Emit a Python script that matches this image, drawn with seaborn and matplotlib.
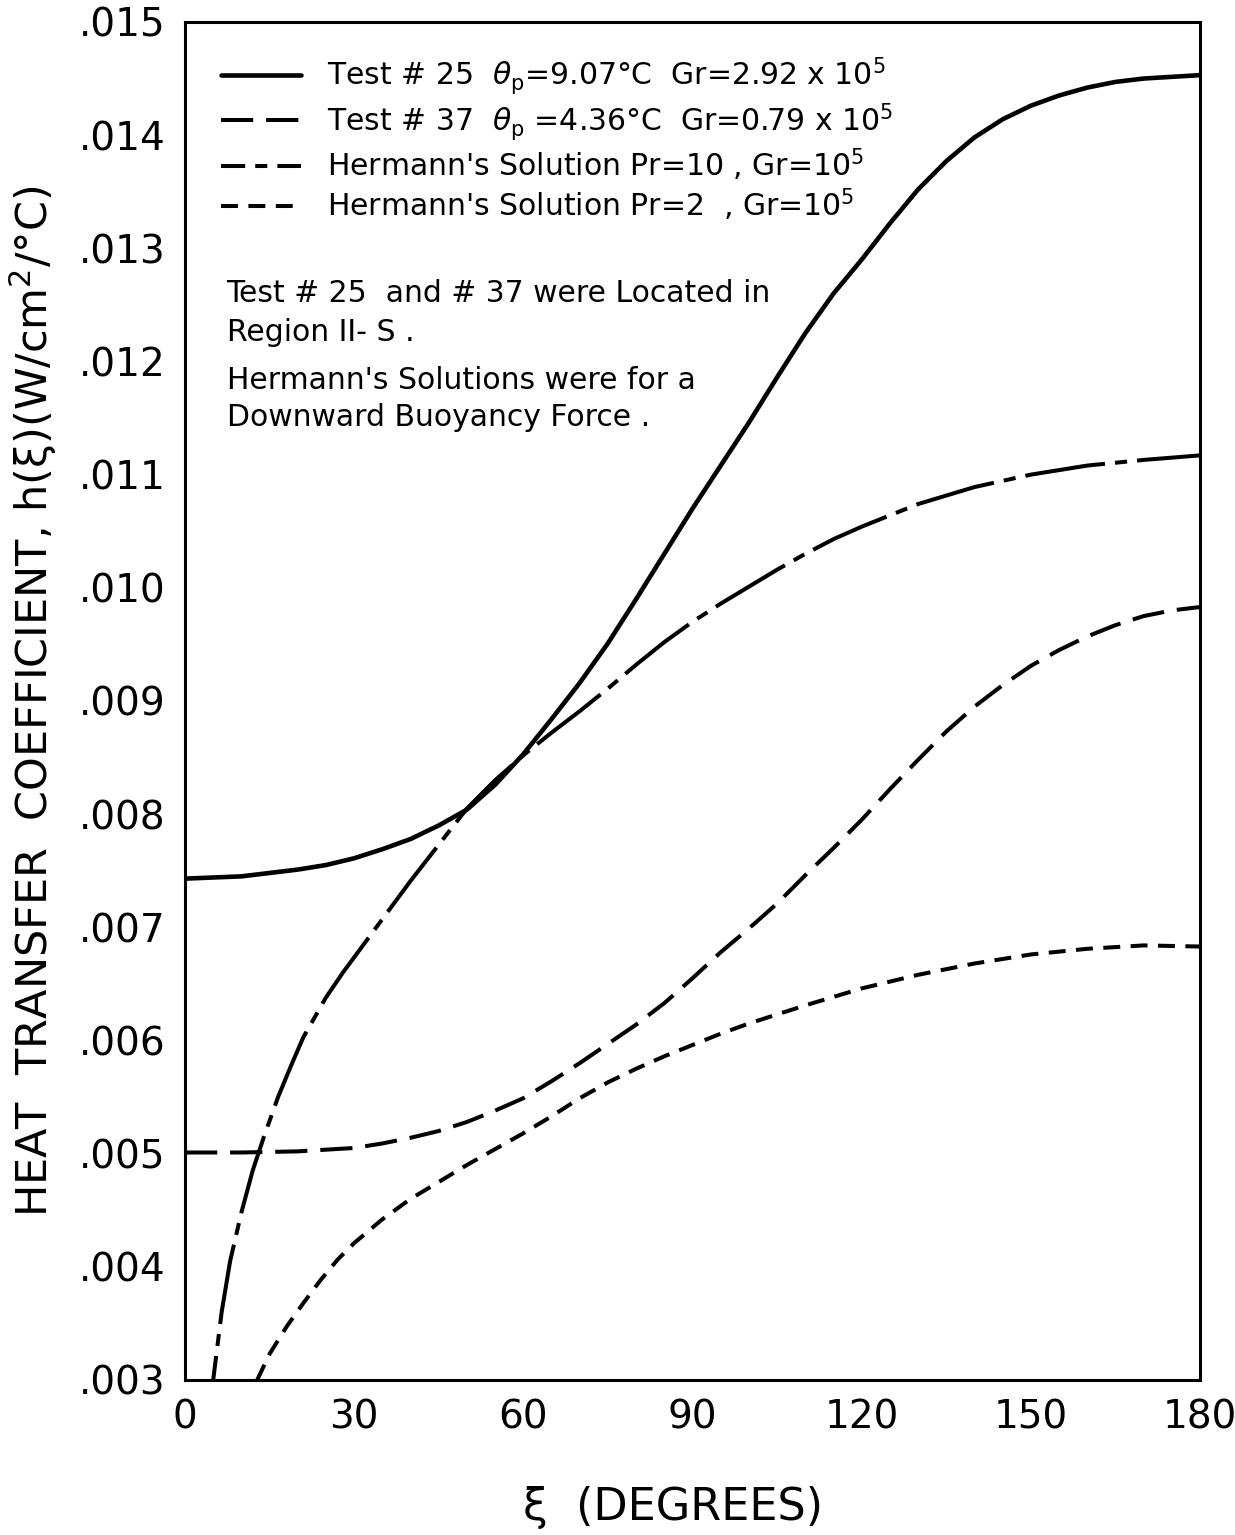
import numpy as np
import pandas as pd
import matplotlib
matplotlib.use("Agg")
import matplotlib.pyplot as plt
from matplotlib.ticker import FuncFormatter
import seaborn as sns

# Test # 25 (solid)
xi_t25 = [0, 5, 10, 15, 20, 25, 30, 35, 40, 45, 50, 55, 60, 65, 70, 75, 80, 85, 90, 95,
          100, 105, 110, 115, 120, 125, 130, 135, 140, 145, 150, 155, 160, 165, 170, 180]
h_t25 = [.00743, .00744, .00745, .00748, .00751, .00755, .00761, .00769, .00778, .00790,
         .00804, .00826, .00853, .00884, .00916, .00951, .00990, .01030, .01070, .01108,
         .01146, .01186, .01225, .01260, .01290, .01322, .01352, .01377, .01398, .01414,
         .01426, .01435, .01442, .01447, .01450, .01453]

# Test # 37 (long dashes)
xi_t37 = [0, 10, 20, 30, 35, 40, 45, 50, 55, 60, 65, 70, 75, 80, 85, 90, 95, 100, 105,
          110, 115, 120, 125, 130, 135, 140, 145, 150, 155, 160, 165, 170, 175, 180]
h_t37 = [.00501, .00501, .00502, .00505, .00509, .00514, .00520, .00528, .00538, .00549,
         .00564, .00580, .00597, .00614, .00633, .00655, .00678, .00699, .00721, .00746,
         .00770, .00795, .00822, .00848, .00873, .00895, .00914, .00931, .00945, .00957,
         .00967, .00975, .00980, .00983]

# Hermann Pr=10 (dash-dot)
xi_pr10 = [5, 6.5, 8, 10, 12, 14, 16.5, 19, 21, 25, 28, 32, 36, 40, 45, 50, 55, 60, 65,
           70, 75, 80, 85, 90, 95, 100, 105, 110, 115, 120, 125, 130, 140, 150, 160, 170, 180]
h_pr10 = [.00300, .00360, .00405, .00448, .00485, .00515, .00550, .00580, .00603, .00638,
          .00660, .00687, .00714, .00741, .00773, .00805, .00830, .00852, .00872, .00891,
          .00911, .00932, .00952, .00970, .00986, .01001, .01016, .01030, .01043, .01054,
          .01064, .01074, .01089, .01100, .01108, .01113, .01117]

# Hermann Pr=2 (short dashes)
xi_pr2 = [12.8, 15, 18, 21, 24, 27, 30, 35, 40, 45, 50, 55, 60, 65, 70, 75, 80, 85, 90,
          95, 100, 110, 120, 130, 140, 150, 160, 170, 180]
h_pr2 = [.00300, .00323, .00347, .00368, .00388, .00406, .00421, .00442, .00460, .00475,
         .00490, .00504, .00518, .00533, .00549, .00563, .00575, .00586, .00596, .00606,
         .00615, .00631, .00646, .00658, .00668, .00676, .00681, .00684, .00683]

labels = [
    r"Test # 25  $\theta_{\mathrm{p}}$=9.07°C  Gr=2.92 x 10$^{5}$",
    r"Test # 37  $\theta_{\mathrm{p}}$ =4.36°C  Gr=0.79 x 10$^{5}$",
    r"Hermann's Solution Pr=10 , Gr=10$^{5}$",
    r"Hermann's Solution Pr=2  , Gr=10$^{5}$",
]
x_ticks = [0, 30, 60, 90, 120, 150, 180]
y_ticks = [.003, .004, .005, .006, .007, .008, .009, .010, .011, .012, .013, .014, .015]

sns.set_style("white")
plt.rcParams['font.family'] = ['DejaVu Sans']
plt.rcParams['mathtext.fontset'] = 'dejavusans'
plt.rcParams['text.color'] = 'black'
plt.rcParams['axes.labelcolor'] = 'black'

fig = plt.figure(figsize=(12.35, 15.35), dpi=100)
ax = fig.add_axes([0.1498, 0.1010, 0.8219, 0.8847])

series = [
    (xi_t25, h_t25, '-', 3.3),
    (xi_t37, h_t37, (0, (8, 3.2)), 2.9),
    (xi_pr10, h_pr10, (14, (20, 2.5, 3, 2.5)), 2.9),
    (xi_pr2, h_pr2, (0, (4.2, 2.6)), 2.9),
]
for (xs, ys, ls, lw), lab in zip(series, labels):
    sns.lineplot(x=xs, y=ys, ax=ax, color='black', linestyle=ls, linewidth=lw,
                 label=lab, sort=False, estimator=None)

ax.set_xlim(0, 180)
ax.set_ylim(0.003, 0.015)
ax.set_xticks(x_ticks)
ax.set_yticks(y_ticks)
ax.yaxis.set_major_formatter(FuncFormatter(lambda v, p: f"{v:.3f}".lstrip('0')))
ax.tick_params(direction='in', length=17, width=2.2, labelsize=28,
               colors='black', labelcolor='black')
ax.tick_params(axis='x', pad=13)
ax.tick_params(axis='y', pad=14)
for s in ax.spines.values():
    s.set_linewidth(2.2)
    s.set_color('black')

ax.set_ylabel("HEAT  TRANSFER  COEFFICIENT, h(ξ)(W/cm$^{2}$/°C)", fontsize=31, labelpad=14)
ax.set_xlabel("ξ  (DEGREES)", fontsize=32)
ax.xaxis.set_label_coords(0.481, -0.078)

leg = ax.legend(loc='upper left', bbox_to_anchor=(0.035, 0.975), frameon=False,
                fontsize=21.5, handlelength=2.7, handletextpad=0.85, labelspacing=0.13,
                borderpad=0, borderaxespad=0)

ax.text(0.041, 0.800, "Test # 25  and # 37 were Located in", transform=ax.transAxes,
        fontsize=21.5, va='center', ha='left')
ax.text(0.041, 0.771, "Region II- S .", transform=ax.transAxes,
        fontsize=21.5, va='center', ha='left')
ax.text(0.041, 0.736, "Hermann's Solutions were for a", transform=ax.transAxes,
        fontsize=21.5, va='center', ha='left')
ax.text(0.041, 0.709, "Downward Buoyancy Force .", transform=ax.transAxes,
        fontsize=21.5, va='center', ha='left')

fig.savefig("out.png", dpi=100, facecolor='white')
